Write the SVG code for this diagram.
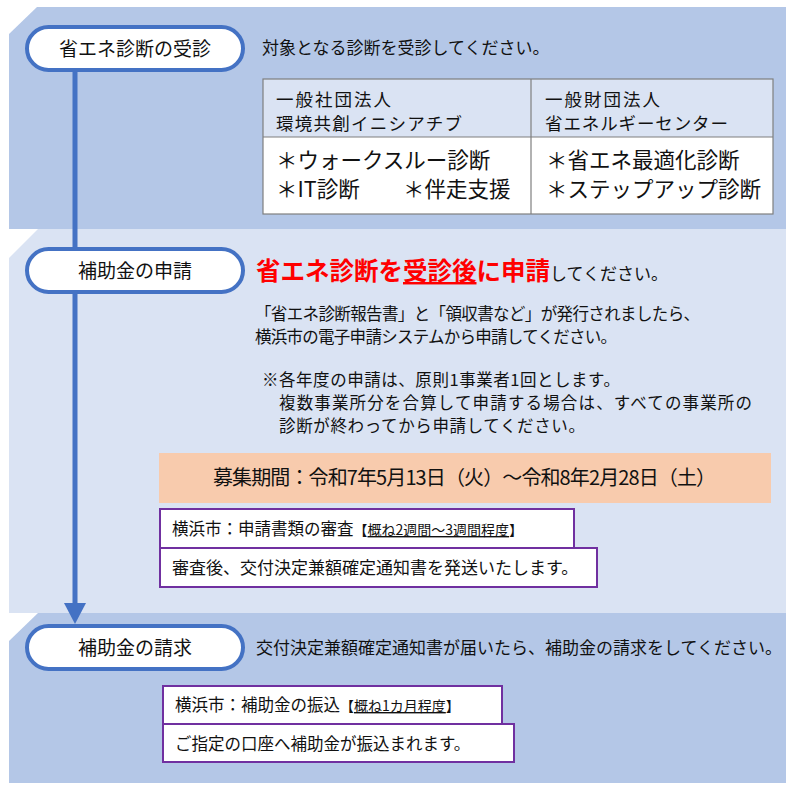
<svg xmlns="http://www.w3.org/2000/svg" width="792" height="790" viewBox="0 0 792 790">
<style>
text{font-family:'Noto Sans CJK JP','Noto Sans',sans-serif;fill:#111}
.sec1{fill:#b4c7e7}
.sec2{fill:#dae3f3}
.pill{fill:#fff;stroke:#4472c4;stroke-width:4}
.pt{font-size:19px;text-anchor:middle}
.b16{font-size:16.5px}
.b17{font-size:17px}
.tb{fill:none;stroke:#7f7f7f;stroke-width:1.2}
.hd{font-size:17.5px}
.bd{font-size:21.5px}
.box{fill:#fff;stroke:#7030a0;stroke-width:2}
.red{fill:#ff0000;font-size:24.5px;font-weight:bold}
.sm{font-size:14px}
</style>
<g id="backgrounds">
<polygon class="sec1" points="9,34 37,7 786,7 786,229 9,229"/>
<polygon class="sec2" points="9,258 38,229 786,229 786,613 9,613"/>
<polygon class="sec1" points="9,641 38,613 786,613 786,783 9,783"/>
</g>
<g id="connectors">
<rect x="72.5" y="70" width="5" height="534" fill="#4472c4"/>
<path d="M64,603 L86,603 L75,624 Z" fill="#4472c4"/>
</g>
<g id="node-jushin">
<rect class="pill" x="27" y="27" width="216" height="43" rx="21.5"/>
<text class="pt" x="135" y="55.5">省エネ診断の受診</text>
<text class="b17" x="262" y="54">対象となる診断を受診してください。</text>
</g>
<g id="table">
<rect x="263" y="79" width="510" height="58" fill="#dae3f3"/>
<rect x="263" y="137" width="510" height="77" fill="#fff"/>
<rect class="tb" x="263" y="79" width="510" height="135"/>
<line class="tb" x1="263" y1="137" x2="773" y2="137"/>
<line class="tb" x1="531" y1="79" x2="531" y2="214"/>
<text class="hd" x="276" y="106" textLength="115" lengthAdjust="spacing">一般社団法人</text>
<text class="hd" x="276" y="130" textLength="186" lengthAdjust="spacing">環境共創イニシアチブ</text>
<text class="hd" x="545" y="106" textLength="115" lengthAdjust="spacing">一般財団法人</text>
<text class="hd" x="545" y="130" textLength="183" lengthAdjust="spacing">省エネルギーセンター</text>
<text class="bd" x="276" y="168">＊ウォークスルー診断</text>
<text class="bd" x="276" y="197">＊IT診断</text>
<text class="bd" x="403" y="197">＊伴走支援</text>
<text class="bd" x="546" y="168">＊省エネ最適化診断</text>
<text class="bd" x="546" y="197">＊ステップアップ診断</text>
</g>
<g id="node-shinsei">
<rect class="pill" x="27" y="249" width="216" height="43" rx="21.5"/>
<text class="pt" x="135" y="278">補助金の申請</text>
<text x="256" y="280"><tspan class="red">省エネ診断を</tspan><tspan class="red" text-decoration="underline">受診後</tspan><tspan class="red">に申請</tspan><tspan class="b17">してください。</tspan></text>
<text class="b16" x="255" y="320" textLength="445" lengthAdjust="spacing">「省エネ診断報告書」と「領収書など」が発行されましたら、</text>
<text class="b16" x="255" y="343" textLength="362" lengthAdjust="spacing">横浜市の電子申請システムから申請してください。</text>
<text class="b16" x="262" y="386" textLength="358" lengthAdjust="spacing">※各年度の申請は、原則1事業者1回とします。</text>
<text class="b16" x="279" y="409" textLength="473" lengthAdjust="spacing">複数事業所分を合算して申請する場合は、すべての事業所の</text>
<text class="b16" x="279" y="432" textLength="306" lengthAdjust="spacing">診断が終わってから申請してください。</text>
</g>
<g id="period">
<rect x="159" y="453" width="612" height="50" fill="#f8cbad"/>
<text x="213" y="485" font-size="20" textLength="503" lengthAdjust="spacing">募集期間：令和7年5月13日（火）～令和8年2月28日（土）</text>
</g>
<g id="node-shinsa">
<rect class="box" x="160" y="509" width="414" height="39"/>
<text class="b16" x="172" y="535">横浜市：申請書類の審査<tspan class="sm">【<tspan text-decoration="underline">概ね2週間～3週間程度</tspan>】</tspan></text>
</g>
<g id="node-tsuchi">
<rect class="box" x="160" y="548" width="437" height="39"/>
<text class="b17" x="172" y="574">審査後、交付決定兼額確定通知書を発送いたします。</text>
</g>
<g id="node-seikyu">
<rect class="pill" x="27" y="626" width="216" height="43" rx="21.5"/>
<text class="pt" x="135" y="655">補助金の請求</text>
<text class="b17" x="256" y="654">交付決定兼額確定通知書が届いたら、補助金の請求をしてください。</text>
</g>
<g id="node-furikomi">
<rect class="box" x="163" y="686" width="339" height="38"/>
<text class="b16" x="175" y="711">横浜市：補助金の振込<tspan class="sm">【<tspan text-decoration="underline">概ね1カ月程度</tspan>】</tspan></text>
</g>
<g id="node-koza">
<rect class="box" x="163" y="724" width="351" height="38"/>
<text class="b16" x="175" y="750">ご指定の口座へ補助金が振込まれます。</text>
</g>
</svg>
